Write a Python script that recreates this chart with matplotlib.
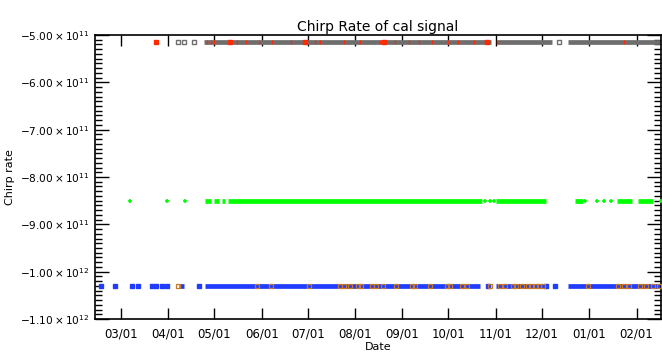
import numpy as np
import matplotlib
matplotlib.use("Agg")
import matplotlib.pyplot as plt
import matplotlib.dates as mdates
from matplotlib.ticker import FixedLocator, MultipleLocator

# Valores (fechas 2013-2014)
x_ini, x_fin = "2013-02-12", "2014-02-17"

# Fila gris / roja (aprox -5.15e11)
nivel_gris = -5.15e11
gris_tramos = [("2013-04-24", "2013-10-29"), ("2013-11-02", "2013-12-08"),
               ("2013-12-18", "2014-02-17")]
gris_puntos = ["2013-04-07", "2013-04-11", "2013-04-18", "2013-12-12"]
rojo_puntos = ["2013-03-24", "2013-04-26", "2013-04-29", "2013-05-01", "2013-05-11",
               "2013-05-16", "2013-05-22", "2013-05-30", "2013-06-08", "2013-06-20",
               "2013-06-29", "2013-07-06", "2013-07-09", "2013-07-25", "2013-08-04",
               "2013-08-17", "2013-08-20", "2013-08-27", "2013-09-05", "2013-09-12",
               "2013-09-20", "2013-10-01", "2013-10-07", "2013-10-18", "2013-10-25",
               "2013-10-27", "2013-11-02", "2014-01-24"]
rojo_grandes = ["2013-03-24", "2013-05-11", "2013-06-29", "2013-08-20", "2013-10-26"]

# Fila verde (-8.5e11)
nivel_verde = -8.5e11
verde_tramos = [("2013-04-25", "2013-04-29"), ("2013-05-01", "2013-05-04"),
                ("2013-05-06", "2013-05-08"), ("2013-05-10", "2013-10-23"),
                ("2013-11-01", "2013-12-04"), ("2013-12-23", "2013-12-28"),
                ("2014-01-19", "2014-01-29"), ("2014-02-02", "2014-02-12")]
verde_puntos = ["2013-03-07", "2013-03-31", "2013-04-12", "2013-10-25",
                "2013-10-28", "2013-10-31", "2013-12-29", "2014-01-06",
                "2014-01-11", "2014-01-15", "2014-02-17"]

# Fila azul / naranja (aprox -1.03e12)
nivel_azul = -1.03e12
azul_tramos = [("2013-04-08", "2013-04-11"), ("2013-04-25", "2013-10-22"),
               ("2013-11-01", "2013-12-03"), ("2013-12-18", "2014-02-17")]
azul_puntos = ["2013-02-16", "2013-02-25", "2013-03-08", "2013-03-12", "2013-03-21",
               "2013-03-24", "2013-03-28", "2013-03-31", "2013-04-21", "2013-10-27",
               "2013-12-04", "2013-12-10"]
naranja_puntos = ["2013-04-07", "2013-05-29", "2013-06-07", "2013-07-02", "2013-07-22",
                  "2013-07-25", "2013-07-29", "2013-08-03", "2013-08-05", "2013-08-12",
                  "2013-08-15", "2013-08-19", "2013-08-28", "2013-09-07", "2013-09-09",
                  "2013-09-19", "2013-09-30", "2013-10-02", "2013-10-10", "2013-10-13",
                  "2013-10-28", "2013-11-04", "2013-11-07", "2013-11-12", "2013-11-14",
                  "2013-11-18", "2013-11-22", "2013-11-24", "2013-11-27", "2013-11-29",
                  "2013-12-02", "2013-12-31", "2014-01-20", "2014-01-24", "2014-01-27",
                  "2014-02-03", "2014-02-07", "2014-02-12", "2014-02-16"]

y_ticks = [-5.0e11, -6.0e11, -7.0e11, -8.0e11, -9.0e11, -1.0e12, -1.1e12]
y_labels = [r"$-5.00\times10^{11}$", r"$-6.00\times10^{11}$", r"$-7.00\times10^{11}$",
            r"$-8.00\times10^{11}$", r"$-9.00\times10^{11}$", r"$-1.00\times10^{12}$",
            r"$-1.10\times10^{12}$"]

GRIS = "#6e6e6e"
ROJO = "#ff2a00"
VERDE = "#00ff00"
AZUL = "#1f3cff"
NARANJA = "#c8782a"


def _d(lista):
    return mdates.datestr2num(lista)


def _tramos(ax, tramos, y, color):
    ini = _d([a for a, b in tramos])
    fin = _d([b for a, b in tramos])
    ax.hlines([y] * len(tramos), ini, fin, colors=color, linewidth=3.4, zorder=2)


plt.rcParams["mathtext.fontset"] = "dejavusans"
fig = plt.figure(figsize=(6.62, 3.60), dpi=100)
ax = fig.add_axes([95 / 662, 41 / 360, 566 / 662, 284 / 360])

_tramos(ax, gris_tramos, nivel_gris, GRIS)
ax.plot(_d(gris_puntos), [nivel_gris] * len(gris_puntos), "s", ms=2.8, color=GRIS,
        mfc="none", mew=1.0, zorder=3)
ax.plot(_d(rojo_puntos), [nivel_gris] * len(rojo_puntos), "|", ms=3, mew=1.0,
        color=ROJO, zorder=4)
ax.plot(_d(rojo_grandes), [nivel_gris] * len(rojo_grandes), "s", ms=3, color=ROJO, zorder=4)

_tramos(ax, verde_tramos, nivel_verde, VERDE)
ax.plot(_d(verde_puntos), [nivel_verde] * len(verde_puntos), "+", ms=3.5, mew=1.2,
        color=VERDE, zorder=3)

_tramos(ax, azul_tramos, nivel_azul, AZUL)
ax.plot(_d(azul_puntos), [nivel_azul] * len(azul_puntos), "s", ms=2.4, color=AZUL, zorder=3)
ax.plot(_d(naranja_puntos), [nivel_azul] * len(naranja_puntos), "s", ms=2.6, color=NARANJA,
        mfc="none", mew=0.9, zorder=4)

ax.set_xlim(mdates.datestr2num(x_ini), mdates.datestr2num(x_fin))
ax.set_ylim(-1.1e12, -5.0e11)

ax.xaxis.set_major_locator(mdates.MonthLocator())
ax.xaxis.set_major_formatter(mdates.DateFormatter("%m/%d"))
ax.yaxis.set_major_locator(FixedLocator(y_ticks))
ax.set_yticklabels(y_labels)
ax.yaxis.set_minor_locator(MultipleLocator(1e10))

ax.tick_params(axis="x", which="major", direction="in", length=8, width=1,
               top=True, labelsize=8.5, pad=6)
ax.tick_params(axis="y", which="major", direction="in", length=10, width=1,
               right=True, labelsize=7.6, pad=4)
ax.tick_params(axis="y", which="minor", direction="in", length=5, width=1, right=True)
for s in ax.spines.values():
    s.set_linewidth(1.2)

ax.set_title("Chirp Rate of cal signal", fontsize=10, pad=3)
ax.set_xlabel("Date", fontsize=8, labelpad=1)
ax.set_ylabel("Chirp rate", fontsize=8, labelpad=4)

fig.savefig("out.png", dpi=100)
